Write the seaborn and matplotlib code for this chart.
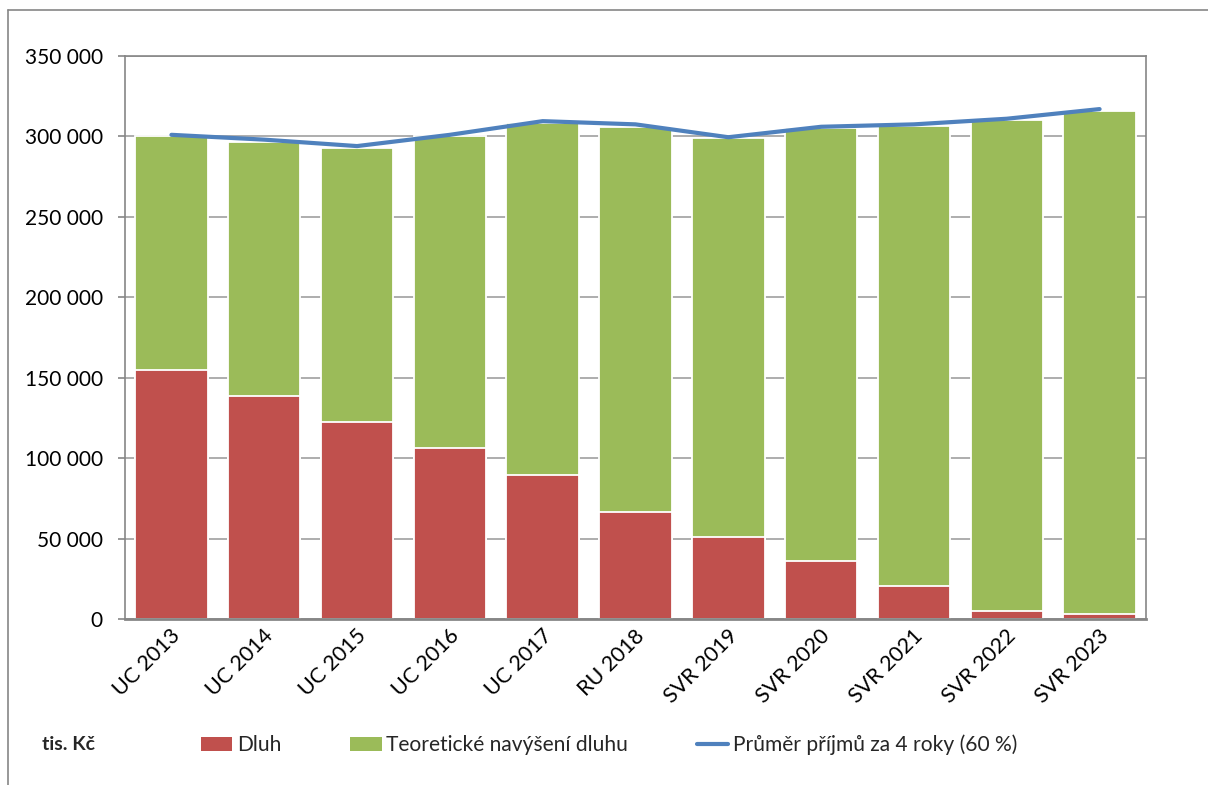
import numpy as np
import pandas as pd
import matplotlib
matplotlib.use("Agg")
import matplotlib.pyplot as plt
import matplotlib.patches as mpatches
import matplotlib.transforms as mtransforms
from matplotlib.lines import Line2D
from matplotlib.ticker import FuncFormatter
import seaborn as sns

# --- data (tis. Kč) ---
categories = ["UC 2013", "UC 2014", "UC 2015", "UC 2016", "UC 2017", "RU 2018",
              "SVR 2019", "SVR 2020", "SVR 2021", "SVR 2022", "SVR 2023"]
dluh = [155000, 138500, 122500, 106000, 89500, 66500, 51000, 36000, 20500, 5000, 3000]
navyseni = [145000, 158000, 170500, 194000, 219000, 239500, 248000, 269000, 286000, 305000, 313000]
prumer = [301000, 298000, 294000, 301000, 309500, 307500, 299500, 306000, 307500, 311000, 317000]

labels = ["Dluh", "Teoretické navýšení dluhu", "Průměr příjmů za 4 roky (60 %)"]
yticks = [0, 50000, 100000, 150000, 200000, 250000, 300000, 350000]

RED = "#C0504D"
GREEN = "#9BBB59"
BLUE = "#4F81BD"
GRID = "#A0A0A0"
FRAME = "#868686"

sns.set_theme(style="white")
plt.rcParams["font.family"] = ["Lato", "DejaVu Sans"]

df = pd.DataFrame({"kat": categories, "dluh": dluh, "navyseni": navyseni, "prumer": prumer})
df["celkem"] = df["dluh"] + df["navyseni"]

fig = plt.figure(figsize=(12.08, 7.85), dpi=100)
ax = fig.add_axes([125 / 1208, 1 - 619 / 785, (1146 - 125) / 1208, (619 - 56) / 785])

# stacked bars: total (green) underneath, debt (red) over its lower part
sns.barplot(data=df, x="kat", y="celkem", color=GREEN, saturation=1, width=0.78,
            edgecolor="white", linewidth=1.3, ax=ax, errorbar=None)
sns.barplot(data=df, x="kat", y="dluh", color=RED, saturation=1, width=0.78,
            edgecolor="white", linewidth=1.3, ax=ax, errorbar=None)
sns.pointplot(data=df, x="kat", y="prumer", color=BLUE, markers="", linestyles="-",
              errorbar=None, ax=ax, linewidth=3)

ax.set_ylim(0, 350000)
ax.set_xlim(-0.5, len(categories) - 0.5)
ax.set_yticks(yticks)
ax.yaxis.set_major_formatter(FuncFormatter(lambda v, p: f"{int(v):,}".replace(",", " ")))
ax.set_xlabel("")
ax.set_ylabel("")

ax.set_axisbelow(True)
ax.yaxis.grid(True, color=GRID, linewidth=1.2)
ax.xaxis.grid(False)
for s in ax.spines.values():
    s.set_visible(True)
    s.set_color(FRAME)
    s.set_linewidth(1.2)
ax.spines["bottom"].set_linewidth(2)

ax.tick_params(axis="y", which="major", direction="out", length=5, width=1.2,
               color=FRAME, pad=11, labelsize=15, left=True, labelcolor="black")
ax.tick_params(axis="x", length=0, pad=10, labelsize=15.5, labelcolor="black")
shift = mtransforms.ScaledTranslation(6 / 100, 0, fig.dpi_scale_trans)
for lab in ax.get_xticklabels():
    lab.set_rotation(45)
    lab.set_ha("right")
    lab.set_va("center")
    lab.set_rotation_mode("anchor")
    lab.set_transform(lab.get_transform() + shift)

# outer chart frame
fig.add_artist(Line2D([8 / 1208, 8 / 1208], [0, 1 - 10 / 785], transform=fig.transFigure,
                      color=FRAME, linewidth=1.2))
fig.add_artist(Line2D([8 / 1208, 1], [1 - 10 / 785, 1 - 10 / 785], transform=fig.transFigure,
                      color=FRAME, linewidth=1.2))

# unit label and legend
fig.text(42 / 1208, 1 - 745 / 785, "tis. Kč", fontsize=14, fontweight="bold",
         ha="left", va="center")
handles = [mpatches.Patch(facecolor=RED, edgecolor="none"),
           mpatches.Patch(facecolor=GREEN, edgecolor="none"),
           Line2D([0], [0], color=BLUE, linewidth=3)]
fig.legend(handles, labels, loc="center left", bbox_to_anchor=(201 / 1208, 1 - 745 / 785),
           ncol=3, frameon=False, fontsize=15.1, handlelength=1.5, handleheight=0.7,
           handletextpad=0.2, columnspacing=3.3, borderaxespad=0, borderpad=0)

fig.savefig("out.png", dpi=100)
